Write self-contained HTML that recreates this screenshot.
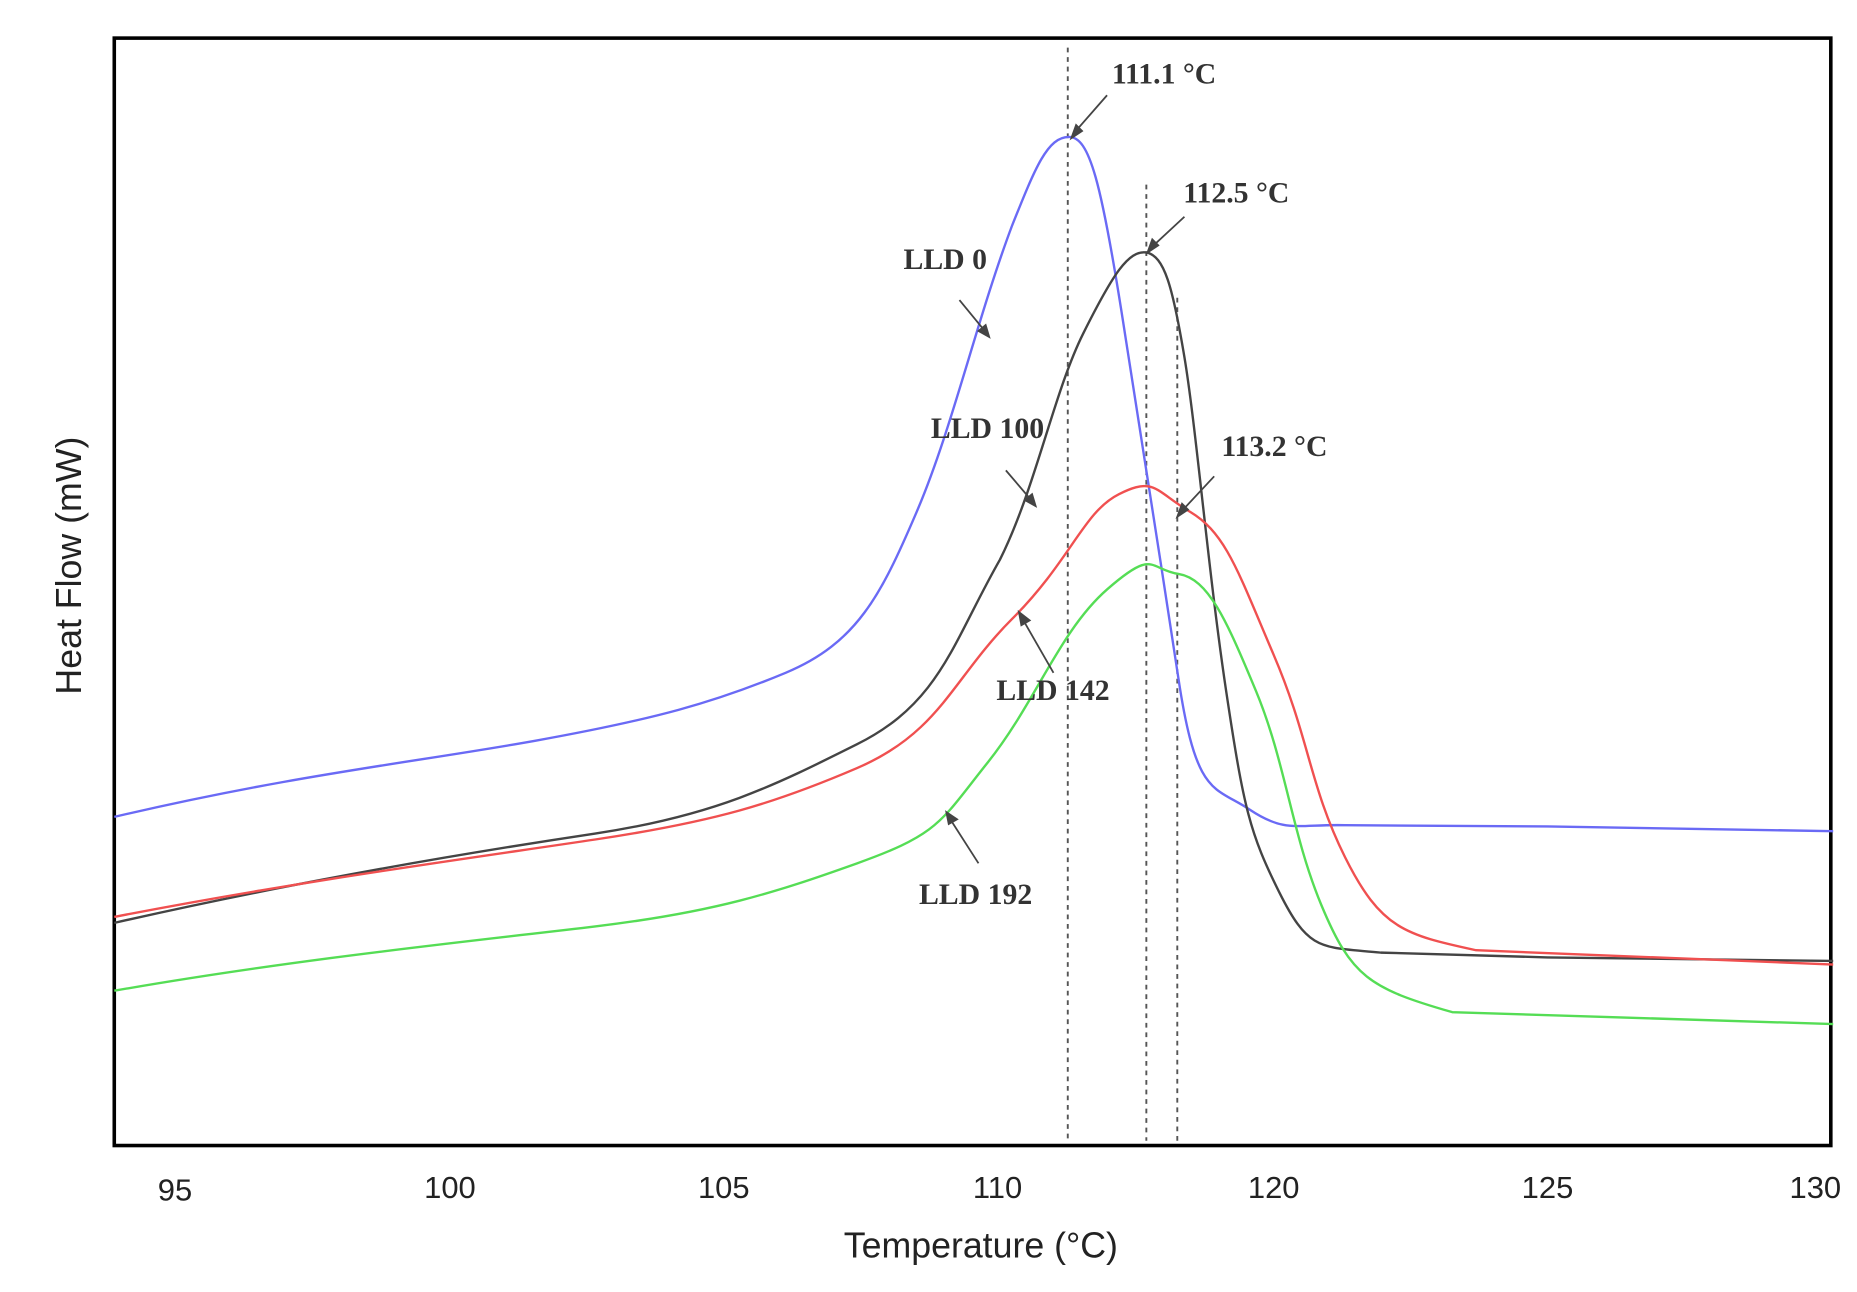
<!DOCTYPE html>
<html><head><style>html,body{margin:0;padding:0;background:#fff;width:1857px;height:1292px;overflow:hidden}</style></head>
<body>
<svg width="1857" height="1292" viewBox="0 0 1560 1085" preserveAspectRatio="none" xmlns="http://www.w3.org/2000/svg">
<rect x="96" y="32" width="1442" height="930" fill="#fff" stroke="#000" stroke-width="3"/>
<g stroke="#555" stroke-width="1.6" stroke-dasharray="4,4">
<line x1="897" y1="40" x2="897" y2="958"/>
<line x1="963" y1="155" x2="963" y2="958"/>
<line x1="989" y1="250" x2="989" y2="958"/>
</g>
<g fill="none" stroke-width="2">
<path stroke="#6a6af5" d="M96,686 C250,650 350,640 450,622 S600,590 660,565 S740,500 770,430 S820,270 850,190 C870,140 880,115 898,115 C915,115 925,150 945,280 S975,470 990,570 S1020,660 1050,680 S1090,692 1130,693 L1300,694 L1540,698"/>
<path stroke="#444" d="M96,775 C250,740 400,715 500,700 S650,660 720,625 S800,540 840,470 C870,410 885,330 910,280 C935,230 948,210 963,212 C978,215 985,240 995,300 S1015,480 1030,580 S1050,700 1075,750 S1110,795 1160,800 L1300,804 L1540,807"/>
<path stroke="#f05050" d="M96,770 C250,740 400,720 500,705 S650,675 720,645 S800,570 850,520 S910,430 940,415 S970,412 1000,430 S1040,480 1070,550 S1100,660 1130,720 S1180,785 1240,798 L1540,810"/>
<path stroke="#55dd55" d="M96,832 C250,805 400,790 500,778 S650,750 720,725 S790,690 830,640 S890,530 930,495 S965,478 990,482 S1030,520 1055,580 S1085,700 1110,760 S1150,830 1220,850 L1540,860"/>
</g>
<g stroke="#444" stroke-width="1.5" fill="#444">
<line x1="930" y1="80" x2="902" y2="112"/><polygon points="900,116 904,105 909,110"/>
<line x1="995" y1="182" x2="967" y2="208"/><polygon points="964,212 968,201 973,206"/>
<line x1="1020" y1="400" x2="992" y2="430"/><polygon points="989,434 993,423 998,428"/>
<line x1="806" y1="252" x2="829" y2="280"/><polygon points="831,283 822,278 828,273"/>
<line x1="845" y1="395" x2="868" y2="422"/><polygon points="870,425 861,420 867,415"/>
<line x1="885" y1="565" x2="858" y2="518"/><polygon points="856,514 865,521 858,525"/>
<line x1="822" y1="725" x2="797" y2="686"/><polygon points="795,682 804,688 797,692"/>
</g>
<g font-family="Liberation Serif, serif" font-weight="bold" font-size="25" fill="#333">
<text x="934" y="70">111.1 °C</text>
<text x="994" y="170">112.5 °C</text>
<text x="1026" y="383">113.2 °C</text>
<text x="759" y="226">LLD 0</text>
<text x="782" y="368">LLD 100</text>
<text x="837" y="588">LLD 142</text>
<text x="772" y="759">LLD 192</text>
</g>
<g font-family="Liberation Sans, sans-serif" font-size="26" fill="#222" text-anchor="middle">
<text x="147" y="1008">95</text>
<text x="378" y="1006">100</text>
<text x="608" y="1006">105</text>
<text x="838" y="1006">110</text>
<text x="1070" y="1006">120</text>
<text x="1300" y="1006">125</text>
<text x="1525" y="1006">130</text>
<text x="824" y="1056" font-size="30">Temperature (°C)</text>
<text x="0" y="0" font-size="30" transform="translate(68,475) rotate(-90)">Heat Flow (mW)</text>
</g>
</svg>
</body></html>
